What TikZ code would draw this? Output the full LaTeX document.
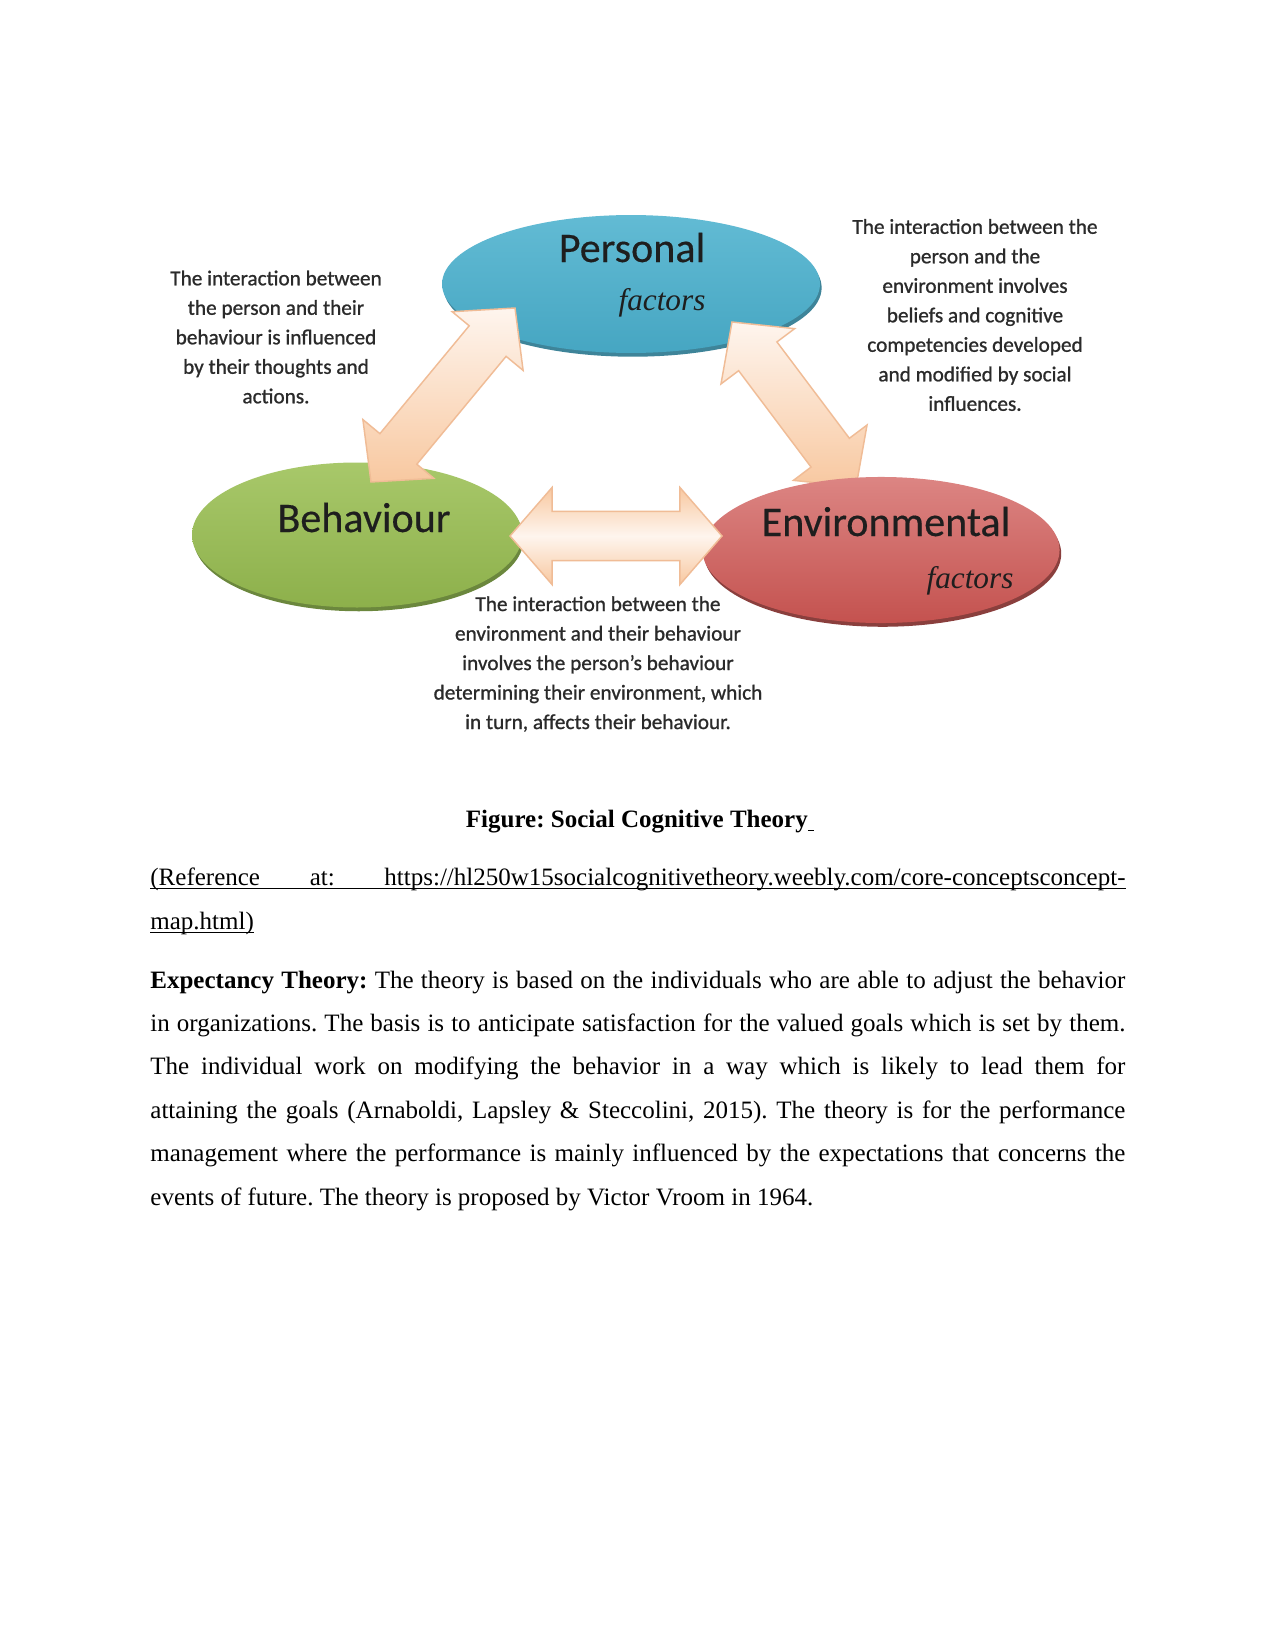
\documentclass[tikz,border=0pt]{standalone}
\usepackage{fontspec}
\setmainfont{Liberation Serif}
\newfontfamily\carlito[FakeBold=0.35]{Carlito}
\newfontfamily\carlitonote[FakeBold=0.9]{Carlito}
\usetikzlibrary{shapes.geometric,calc,shadows}
\definecolor{peachA}{HTML}{F8C8A0}
\definecolor{peachB}{HTML}{FEF5EE}
\definecolor{peachL}{HTML}{F0BC96}
\definecolor{blueT}{HTML}{62BBD4}
\definecolor{blueB}{HTML}{46A6C2}
\definecolor{blueR}{HTML}{2A778E}
\definecolor{greenT}{HTML}{A8C86A}
\definecolor{greenB}{HTML}{8DB04B}
\definecolor{greenR}{HTML}{5B7A28}
\definecolor{redT}{HTML}{DC8583}
\definecolor{redB}{HTML}{C4524F}
\definecolor{redR}{HTML}{7E2B29}
\definecolor{ink}{HTML}{1E1E1E}
\definecolor{noteink}{HTML}{2A2A2A}
% double block arrow between two named coordinates
% #1 from, #2 to, #3 prefix, #4 head length, #5 head half width, #6 shaft half width, #7 style
\newcommand\dblarrow[7]{%
  \coordinate (#3a) at ($(#1)!#4!(#2)$);
  \coordinate (#3b) at ($(#2)!#4!(#1)$);
  \path[#7] (#1) -- ($(#3a)!#5!90:(#2)$) -- ($(#3a)!#6!90:(#2)$)
    -- ($(#3b)!#6!-90:(#1)$) -- ($(#3b)!#5!-90:(#1)$) -- (#2)
    -- ($(#3b)!#5!90:(#1)$) -- ($(#3b)!#6!90:(#1)$)
    -- ($(#3a)!#6!-90:(#2)$) -- ($(#3a)!#5!-90:(#2)$) -- cycle;
}
\frenchspacing
\begin{document}
\begin{tikzpicture}[x=0.48pt,y=-0.48pt,
  oval/.style={ellipse, inner sep=0pt, draw=none},
  big/.style={font=\carlito\fontsize{20.2}{24}\selectfont, inner sep=0pt, anchor=base, text=ink},
  fac/.style={font=\itshape\fontsize{15}{18}\selectfont, inner sep=0pt, anchor=base, text=ink},
  note/.style={font=\carlitonote\fontsize{10.2}{14.16}\selectfont, align=center, inner sep=0pt, text=noteink},
  body/.style={font=\frenchspacing\fontsize{12}{14}\selectfont, inner sep=0pt, anchor=base west},
  diagarrow/.style={top color=peachB, bottom color=peachA, draw=peachL, line width=0.7pt, line join=miter},
  horarrow/.style={top color=peachA, bottom color=peachA, middle color=peachB, draw=peachL, line width=0.7pt, line join=miter},
  uline/.style={line width=0.6pt}
]
\fill[white] (0,0) rectangle (1275,1651);
\useasboundingbox (0,0) rectangle (1275,1651);

% ellipses
\node[oval, minimum width=181.4pt, minimum height=66.2pt, top color=blueT, bottom color=blueB,
  drop shadow={shadow xshift=0.8pt, shadow yshift=-1.8pt, fill=blueR, opacity=0.9}] (pers) at (631,284) {};
\node[oval, minimum width=158.4pt, minimum height=69.6pt, top color=greenT, bottom color=greenB,
  drop shadow={shadow xshift=0.8pt, shadow yshift=-1.8pt, fill=greenR, opacity=0.9}] (beh) at (357,535) {};

% arrow Personal <-> Environmental (under the Environmental ellipse)
\coordinate (R1) at (732,322);
\coordinate (R2) at (856,487);
\dblarrow{R1}{R2}{ra}{20.6pt}{22.1pt}{11.5pt}{diagarrow}

\node[oval, minimum width=171.4pt, minimum height=70.1pt, top color=redT, bottom color=redB,
  drop shadow={shadow xshift=0.8pt, shadow yshift=-1.8pt, fill=redR, opacity=0.9}] (env) at (881,550) {};

% arrow Personal <-> Behaviour
\coordinate (L1) at (515,308);
\coordinate (L2) at (371,482);
\dblarrow{L1}{L2}{la}{20.6pt}{22.1pt}{11.5pt}{diagarrow}

% arrow Behaviour <-> Environmental
\coordinate (H1) at (510,536);
\coordinate (H2) at (722,536);
\dblarrow{H1}{H2}{ha}{20.2pt}{23.3pt}{11.8pt}{horarrow}

% ellipse labels
\node[big] (tpers) at (632,262) {Personal};
\node[fac] (fpers) at (662,310) {factors};
\node[big] (tbeh) at (364,532) {Behaviour};
\node[big] (tenv) at (886,536) {Environmental};
\node[fac] (fenv) at (970,588) {factors};

% notes
\node[note] (nleft) at (276,337) {The interaction between\\the person and their\\behaviour is influenced\\by their thoughts and\\actions.};
\node[note] (nright) at (975,315) {The interaction between the\\person and the\\environment involves\\beliefs and cognitive\\competencies developed\\and modified by social\\influences.};
\node[note] (nbottom) at (598,664) {The interaction between the\\environment and their behaviour\\involves the person’s behaviour\\determining their environment, which\\in turn, affects their behaviour.};

% caption
\node[inner sep=0pt, anchor=base, font=\bfseries\fontsize{12}{14}\selectfont] (cap) at (640,827)
  {Figure: Social Cognitive Theory\underline{\hbox to 3pt{}}};

% reference
\node[body] (ref1) at (150,885) {\makebox[468pt][s]{(Reference at: https://hl250w15socialcognitivetheory.weebly.com/core-conceptsconcept-}};
\node[body] (ref2) at (150,929) {map.html)};
\draw[uline] ([yshift=-1.6pt]ref1.base west) -- ([yshift=-1.6pt]ref1.base east);
\draw[uline] ([yshift=-1.6pt]ref2.base west) -- ([yshift=-1.6pt]ref2.base east);

% paragraph
\node[body] (p1) at (150,988) {\makebox[468pt][s]{\textbf{Expectancy Theory:} The theory is based on the individuals who are able to adjust the behavior}};
\node[body] (p2) at (150,1031.4) {\makebox[468pt][s]{in organizations. The basis is to anticipate satisfaction for the valued goals which is set by them.}};
\node[body] (p3) at (150,1074.8) {\makebox[468pt][s]{The individual work on modifying the behavior in a way which is likely to lead them for}};
\node[body] (p4) at (150,1118.2) {\makebox[468pt][s]{attaining the goals (Arnaboldi, Lapsley \& Steccolini, 2015). The theory is for the performance}};
\node[body] (p5) at (150,1161.6) {\makebox[468pt][s]{management where the performance is mainly influenced by the expectations that concerns the}};
\node[body] (p6) at (150,1205) {events of future. The theory is proposed by Victor Vroom in 1964.};
\end{tikzpicture}
\end{document}
